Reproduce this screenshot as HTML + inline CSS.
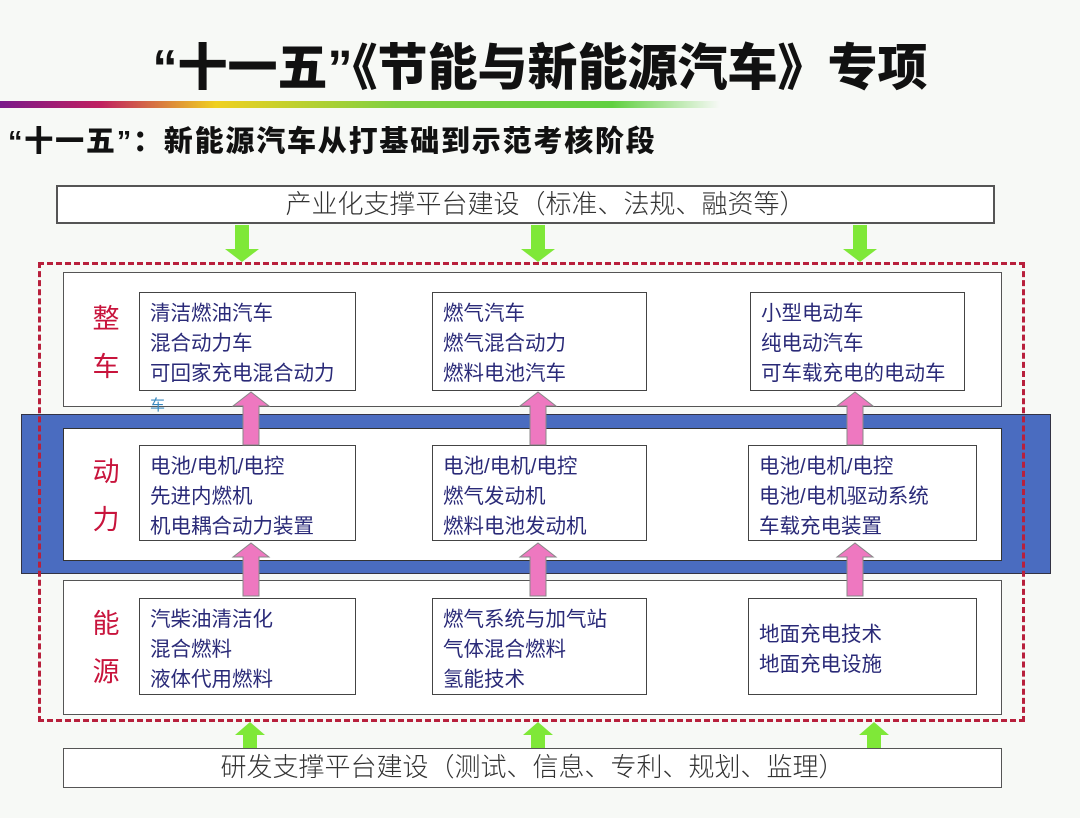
<!DOCTYPE html>
<html><head><meta charset="utf-8"><style>
body{margin:0;width:1080px;height:818px;background:#f7f9f6;position:relative;overflow:hidden;font-family:"Liberation Sans","Noto Sans CJK SC",sans-serif}
div{position:absolute;box-sizing:border-box}
.t{left:0;width:1080px;text-align:center;top:28px;font-size:50px;font-weight:900;color:#111;letter-spacing:0px}
.st{left:8px;top:118px;font-size:29px;font-weight:900;color:#111;letter-spacing:1.8px}
.grad{left:0;top:101px;width:720px;height:7px;background:linear-gradient(90deg,#7a1a8a 0%,#c02060 14%,#f0d020 30%,#80d040 55%,#60d040 85%,rgba(200,240,200,0) 100%)}
.wb{background:#fff;border:2px solid #555}
.big{font-size:26px;color:#333;text-align:center;font-weight:300}
.it{background:#fff;border:1.5px solid #444;color:#2a2a78;font-size:20.5px;line-height:30px;padding:6px 0 0 10px;white-space:nowrap}
.lb{color:#c8143c;font-size:27px;line-height:48px;width:40px;text-align:center}
</style></head><body>
<div class="t">“十一五”《节能与新能源汽车》专项</div>
<div class="grad"></div>
<div class="st">“十一五”：新能源汽车从打基础到示范考核阶段</div>
<div class="wb big" style="left:56px;top:185px;width:939px;height:39px;line-height:34px;padding-left:40px">产业化支撑平台建设（标准、法规、融资等）</div>
<div class="wb" style="left:63px;top:272px;width:939px;height:135px;border-width:1.5px"></div>
<div style="left:21px;top:414px;width:1030px;height:160px;background:#4a6cc0;border:1px solid #334"></div>
<div style="left:63px;top:428px;width:939px;height:133px;background:#fff;border:1px solid #333"></div>
<div class="wb" style="left:63px;top:580px;width:939px;height:135px;border-width:1.5px"></div>
<div style="left:38px;top:262px;width:987px;height:460px;border:3px dashed #b8203c"></div>
<div class="lb" style="left:86px;top:295px">整<br>车</div>
<div class="lb" style="left:86px;top:448px">动<br>力</div>
<div class="lb" style="left:86px;top:600px">能<br>源</div>
<div class="it" style="left:139px;top:292px;width:217px;height:99px">清洁燃油汽车<br>混合动力车<br>可回家充电混合动力</div>
<div style="left:150px;top:394px;font-size:15px;color:#3a8ac0">车</div>
<div class="it" style="left:432px;top:292px;width:215px;height:99px">燃气汽车<br>燃气混合动力<br>燃料电池汽车</div>
<div class="it" style="left:750px;top:292px;width:215px;height:99px">小型电动车<br>纯电动汽车<br>可车载充电的电动车</div>
<div class="it" style="left:139px;top:445px;width:217px;height:96px">电池/电机/电控<br>先进内燃机<br>机电耦合动力装置</div>
<div class="it" style="left:432px;top:445px;width:215px;height:96px">电池/电机/电控<br>燃气发动机<br>燃料电池发动机</div>
<div class="it" style="left:748px;top:445px;width:229px;height:96px">电池/电机/电控<br>电池/电机驱动系统<br>车载充电装置</div>
<div class="it" style="left:139px;top:598px;width:217px;height:97px">汽柴油清洁化<br>混合燃料<br>液体代用燃料</div>
<div class="it" style="left:432px;top:598px;width:215px;height:97px">燃气系统与加气站<br>气体混合燃料<br>氢能技术</div>
<div class="it" style="left:748px;top:598px;width:229px;height:97px;padding-top:21px">地面充电技术<br>地面充电设施</div>
<div class="wb big" style="left:63px;top:748px;width:939px;height:40px;line-height:36px;border-width:1.5px">研发支撑平台建设（测试、信息、专利、规划、监理）</div>
<svg style="position:absolute;left:0;top:0" width="1080" height="818">
<defs>
<g id="gd"><polygon points="-7,0 7,0 7,24 17,24 0,37 -17,24 -7,24" fill="#7fe838"/></g>
<g id="gu"><polygon points="-7,26 7,26 7,13 15,13 0,0 -15,13 -7,13" fill="#7fe838"/></g>
<g id="pu"><polygon points="-8,53 8,53 8,14 18,14 0,0 -18,14 -8,14" fill="#ee78c0" stroke="#888" stroke-width="1"/></g>
</defs>
<use href="#gd" x="242" y="225"/><use href="#gd" x="538" y="225"/><use href="#gd" x="860" y="225"/>
<use href="#gu" x="250" y="722"/><use href="#gu" x="538" y="722"/><use href="#gu" x="874" y="722"/>
<use href="#pu" x="251" y="392"/><use href="#pu" x="538" y="392"/><use href="#pu" x="855" y="392"/>
<use href="#pu" x="251" y="543"/><use href="#pu" x="538" y="543"/><use href="#pu" x="855" y="543"/>
</svg>
</body></html>
